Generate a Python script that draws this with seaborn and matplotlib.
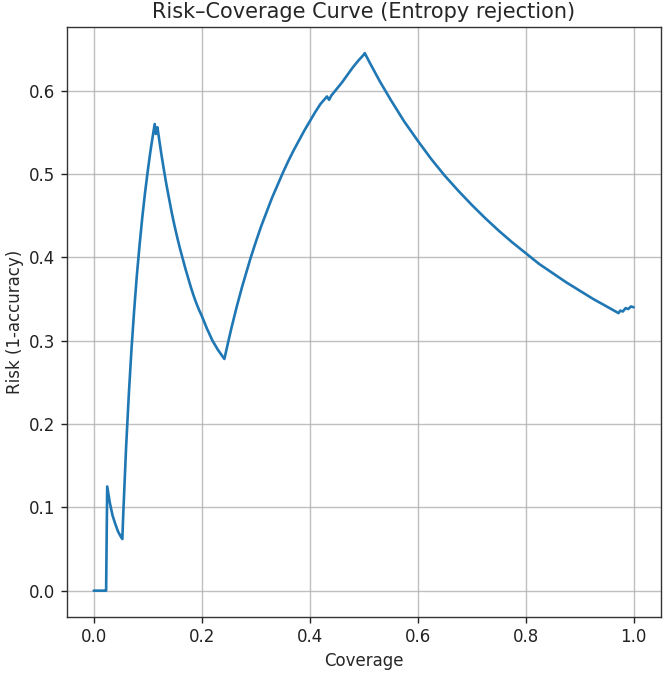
import matplotlib
matplotlib.use("Agg")
import matplotlib.pyplot as plt
import seaborn as sns
import pandas as pd

coverage = [0.000, 0.022, 0.023, 0.025, 0.030, 0.035, 0.040, 0.045, 0.050, 0.053,
            0.055, 0.060, 0.065, 0.070, 0.075, 0.080, 0.085, 0.090, 0.095, 0.100,
            0.105, 0.110, 0.113, 0.115, 0.118, 0.125, 0.130, 0.135, 0.140, 0.145,
            0.150, 0.155, 0.160, 0.165, 0.170, 0.175, 0.180, 0.185, 0.190, 0.195,
            0.200, 0.210, 0.220, 0.230, 0.242, 0.250, 0.255, 0.260, 0.265, 0.270,
            0.275, 0.280, 0.285, 0.290, 0.295, 0.300, 0.310, 0.320, 0.330, 0.340,
            0.350, 0.360, 0.370, 0.380, 0.390, 0.400, 0.410, 0.420, 0.432, 0.436,
            0.440, 0.450, 0.460, 0.470, 0.480, 0.490, 0.500, 0.502, 0.510, 0.520,
            0.530, 0.540, 0.550, 0.575, 0.600, 0.625, 0.650, 0.675, 0.700, 0.725,
            0.750, 0.775, 0.800, 0.825, 0.850, 0.875, 0.900, 0.925, 0.950, 0.972,
            0.975, 0.980, 0.985, 0.990, 0.995, 1.000]
risk = [0.000, 0.000, 0.000, 0.125, 0.105, 0.090, 0.080, 0.071, 0.065, 0.062,
        0.096, 0.172, 0.235, 0.290, 0.337, 0.379, 0.415, 0.448, 0.477, 0.503,
        0.527, 0.548, 0.560, 0.548, 0.556, 0.525, 0.505, 0.486, 0.469, 0.452,
        0.437, 0.423, 0.410, 0.398, 0.386, 0.375, 0.364, 0.354, 0.345, 0.337,
        0.330, 0.314, 0.300, 0.289, 0.278, 0.301, 0.315, 0.328, 0.341, 0.353,
        0.365, 0.376, 0.387, 0.398, 0.408, 0.418, 0.437, 0.454, 0.471, 0.486,
        0.501, 0.515, 0.528, 0.540, 0.552, 0.563, 0.574, 0.584, 0.593, 0.589,
        0.594, 0.602, 0.610, 0.619, 0.628, 0.636, 0.643, 0.645, 0.635, 0.623,
        0.611, 0.600, 0.589, 0.563, 0.540, 0.518, 0.498, 0.480, 0.463, 0.447,
        0.432, 0.418, 0.405, 0.392, 0.381, 0.370, 0.360, 0.350, 0.341, 0.333,
        0.336, 0.335, 0.339, 0.338, 0.341, 0.340]

df = pd.DataFrame({"Coverage": coverage, "Risk": risk})

sns.set_style("ticks")
plt.rcParams.update({
    "font.family": ["DejaVu Sans"],
    "axes.edgecolor": "black",
    "xtick.color": "#222222",
    "ytick.color": "#222222",
})

fig = plt.figure(figsize=(6.63, 6.74), dpi=100)
ax = fig.add_axes([0.1006, 0.0841, 0.8959, 0.8754])
sns.lineplot(data=df, x="Coverage", y="Risk", ax=ax, color="#1f77b4",
             linewidth=1.9, sort=False, estimator=None)
ax.grid(True, color="#b0b0b0", linewidth=1.0, alpha=0.8)
ax.set_axisbelow(True)
ax.set_xlim(-0.05, 1.05)
ax.set_ylim(-0.032, 0.676)
ax.set_xticks([0.0, 0.2, 0.4, 0.6, 0.8, 1.0])
ax.set_yticks([0.0, 0.1, 0.2, 0.3, 0.4, 0.5, 0.6])
ax.tick_params(labelsize=12, length=4.5, width=1.0)
ax.set_xlabel("Coverage", fontsize=12)
ax.set_ylabel("Risk (1-accuracy)", fontsize=12)
ax.set_title("Risk\u2013Coverage Curve (Entropy rejection)", fontsize=15, pad=7)
for s in ax.spines.values():
    s.set_linewidth(1.0)
    s.set_color("#333333")

fig.savefig("out.png", dpi=100)
